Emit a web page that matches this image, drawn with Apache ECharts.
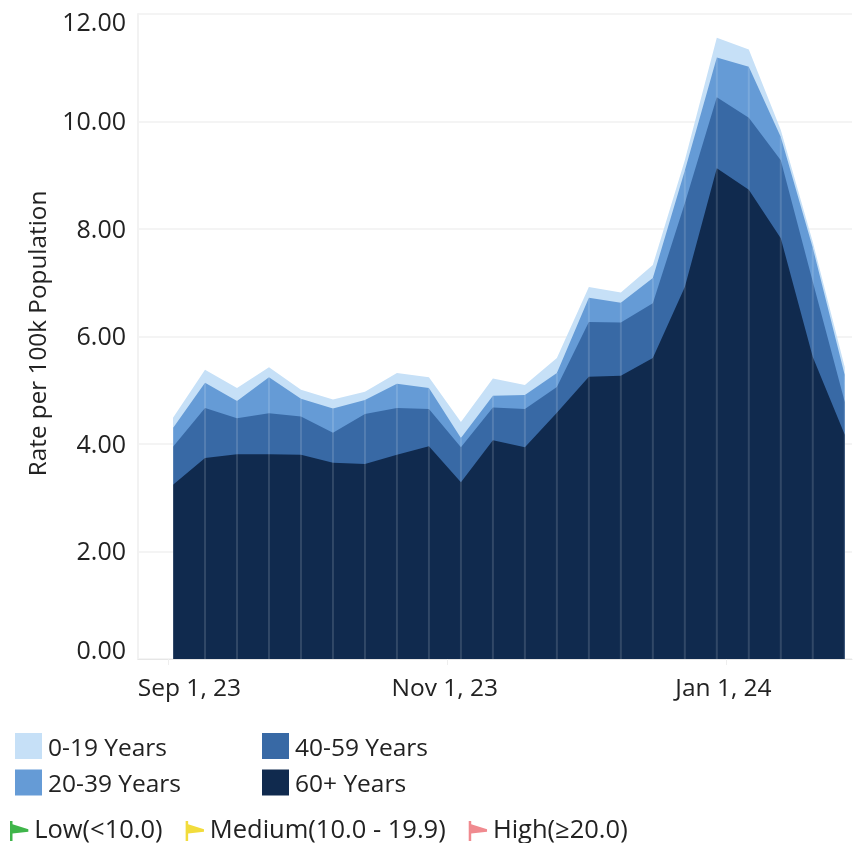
<!DOCTYPE html>
<html>
<head>
<meta charset="utf-8">
<title>Rate per 100k Population</title>
<script src="https://cdn.jsdelivr.net/npm/echarts@6/dist/echarts.min.js"></script>
<style>
  html, body { margin: 0; padding: 0; background: #fff; }
  #chart { width: 864px; height: 843px; }
</style>
</head>
<body>
<div id="chart"></div>
<script>
// 每周数据的日期
const weeks = [
  '2023-09-02', '2023-09-09', '2023-09-16', '2023-09-23', '2023-09-30', '2023-10-07',
  '2023-10-14', '2023-10-21', '2023-10-28', '2023-11-04', '2023-11-11', '2023-11-18',
  '2023-11-25', '2023-12-02', '2023-12-09', '2023-12-16', '2023-12-23', '2023-12-30',
  '2024-01-06', '2024-01-13', '2024-01-20', '2024-01-27'
]

// 各年龄段的值，读自原图
const age60 = [3.24, 3.74, 3.81, 3.81, 3.80, 3.65, 3.63, 3.80, 3.96, 3.29, 4.07, 3.94, 4.58, 5.25, 5.27, 5.60, 6.92, 9.13, 8.73, 7.83, 5.62, 4.17]
const age40 = [0.71, 0.93, 0.67, 0.76, 0.71, 0.56, 0.93, 0.87, 0.69, 0.65, 0.61, 0.71, 0.48, 1.02, 0.99, 1.02, 1.56, 1.32, 1.34, 1.45, 1.40, 0.61]
const age20 = [0.35, 0.47, 0.32, 0.67, 0.33, 0.45, 0.26, 0.45, 0.39, 0.17, 0.22, 0.26, 0.26, 0.45, 0.37, 0.47, 0.61, 0.74, 0.95, 0.43, 0.63, 0.50]
const age0 = [0.19, 0.24, 0.24, 0.19, 0.17, 0.17, 0.15, 0.20, 0.20, 0.30, 0.32, 0.19, 0.28, 0.20, 0.19, 0.24, 0.19, 0.37, 0.32, 0.13, 0.11, 0.15]

const xTickDates = ['2023-09-01', '2023-11-01', '2024-01-01']
const xTickLabels = ['Sep 1, 23', 'Nov 1, 23', 'Jan 1, 24']
const levelNames = ['Low(<10.0)', 'Medium(10.0 - 19.9)', 'High(≥20.0)']

const textColor = '#222'
const fontFamily = '"Open Sans", sans-serif'
const flagIcon = 'path://M2 0H5V4L24 10V13L5 15V24H2Z'

const toTime = d => new Date(d + 'T00:00:00').getTime()
const xTicks = xTickDates.map(toTime)
const weekTimes = weeks.map(toTime)

// value 轴上 stack 会叠到 x 维，所以自己累加，从最高层开始画
const top60 = age60
const top40 = top60.map((v, i) => v + age40[i])
const top20 = top40.map((v, i) => v + age20[i])
const top0 = top20.map((v, i) => v + age0[i])

function areaSeries(name, values, color) {
  return {
    name,
    type: 'line',
    symbol: 'none',
    silent: true,
    lineStyle: { width: 0 },
    itemStyle: { color },
    areaStyle: { color, opacity: 1 },
    data: weekTimes.map((t, i) => [t, values[i]])
  }
}

function levelSeries(name, color) {
  return { name, type: 'line', itemStyle: { color }, lineStyle: { color }, data: [] }
}

function boxLegend(names, left, top) {
  return {
    data: names,
    orient: 'vertical',
    left,
    top,
    padding: 0,
    itemGap: 8,
    itemWidth: 27,
    itemHeight: 26,
    icon: 'rect',
    selectedMode: false,
    formatter: name => `{t|${name}}`,
    textStyle: {
      rich: { t: { color: textColor, fontFamily, fontSize: 24.5, padding: [6, 0, 0, 1] } }
    }
  }
}

const yLabelStyle = { color: textColor, fontFamily, fontSize: 25 }

const chart = echarts.init(document.getElementById('chart'))
chart.setOption({
  animation: false,
  grid: { left: 138, right: 12, top: 14, bottom: 184 },
  legend: [
    boxLegend(['0-19 Years', '20-39 Years'], 15, 733),
    boxLegend(['40-59 Years', '60+ Years'], 262, 733),
    {
      data: levelNames.map(name => ({ name, icon: flagIcon })),
      left: 10,
      top: 818,
      padding: 0,
      itemGap: 23,
      itemWidth: 24,
      itemHeight: 20,
      selectedMode: false,
      textStyle: { color: textColor, fontFamily, fontSize: 25.5, padding: [0, 0, 0, -2] }
    }
  ],
  xAxis: {
    type: 'value',
    min: toTime('2023-08-25') + 8 * 3600 * 1000,
    max: toTime('2024-01-28') + 14 * 3600 * 1000,
    axisLine: { lineStyle: { color: '#e6e6e6' } },
    axisTick: { customValues: xTicks, length: 6, lineStyle: { color: '#eeeeee' } },
    splitLine: { show: false },
    axisLabel: {
      customValues: xTicks,
      margin: 18,
      color: textColor,
      fontFamily,
      fontSize: 24.5,
      formatter: value => {
        const label = xTickLabels[xTicks.indexOf(value)]
        // 第一个标签靠右，不居中在刻度上
        return value === xTicks[0] ? `{first|${label}}` : `{rest|${label}}`
      },
      rich: {
        first: { color: textColor, fontFamily, fontSize: 24.5, padding: [0, 0, 0, 42] },
        rest: { color: textColor, fontFamily, fontSize: 24.5, padding: [0, 5, 0, 0] }
      }
    }
  },
  yAxis: {
    type: 'value',
    min: 0,
    max: 12,
    interval: 2,
    name: 'Rate per 100k Population',
    nameLocation: 'middle',
    nameGap: 85,
    nameTextStyle: { color: textColor, fontFamily, fontSize: 24.3, padding: [0, 0, 0, 6] },
    axisLine: { show: true, lineStyle: { color: '#f2f2f2', width: 2 } },
    axisTick: { show: false },
    splitLine: { lineStyle: { color: '#f4f4f4', width: 2 } },
    axisLabel: {
      margin: 12,
      formatter: value => {
        // 两端的标签往里收，不压在图外
        const style = value === 12 ? 'max' : value === 0 ? 'min' : 'mid'
        return `{${style}|${value.toFixed(2)}}`
      },
      rich: {
        max: { ...yLabelStyle, padding: [20, 0, 0, 0] },
        mid: { ...yLabelStyle, padding: [3, 0, 0, 0] },
        min: { ...yLabelStyle, padding: [0, 0, 14, 0] }
      }
    }
  },
  series: [
    areaSeries('0-19 Years', top0, '#c6e0f7'),
    areaSeries('20-39 Years', top20, '#659bd6'),
    areaSeries('40-59 Years', top40, '#3869a5'),
    areaSeries('60+ Years', top60, '#102a4e'),
    {
      // 每周的竖线，到 20-39 岁层顶部
      name: 'week',
      type: 'bar',
      barWidth: 2,
      silent: true,
      z: 5,
      itemStyle: { color: 'rgba(255, 255, 255, 0.14)' },
      data: weekTimes.map((t, i) => [t, top20[i]])
    },
    levelSeries(levelNames[0], '#3fb54a'),
    levelSeries(levelNames[1], '#f2dc3c'),
    levelSeries(levelNames[2], '#f08a8f')
  ]
})
</script>
</body>
</html>
